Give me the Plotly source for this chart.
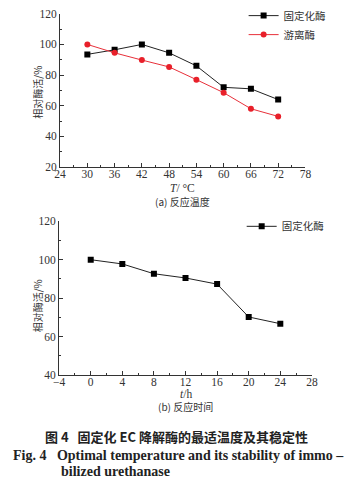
import plotly.graph_objects as go

temp = [30, 36, 42, 48, 54, 60, 66, 72]
immob_temp = [93.5, 96.5, 100, 94.5, 86, 72, 71, 64]
free_temp = [100, 94.5, 89.8, 85.3, 77, 68.5, 58, 53]

time_h = [0, 4, 8, 12, 16, 20, 24]
immob_time = [100, 97.8, 92.7, 90.5, 87.3, 70.2, 66.7]

W, H = 352, 489
SERIF = "Liberation Serif, Noto Serif CJK SC, Noto Sans CJK SC, serif"
CJK = "Noto Sans CJK SC, Liberation Serif, serif"

def py(p):
    return 1 - p / H

fig = go.Figure()
fig.add_trace(go.Scatter(x=temp, y=immob_temp, mode="lines+markers", name="固定化酶",
                         line=dict(color="#222222", width=1),
                         marker=dict(symbol="square", size=6, color="#000000"),
                         xaxis="x", yaxis="y", legend="legend"))
fig.add_trace(go.Scatter(x=temp, y=free_temp, mode="lines+markers", name="游离酶",
                         line=dict(color="#e8303a", width=1),
                         marker=dict(symbol="circle", size=6, color="#e8202a"),
                         xaxis="x", yaxis="y", legend="legend"))
fig.add_trace(go.Scatter(x=time_h, y=immob_time, mode="lines+markers", name="固定化酶",
                         line=dict(color="#222222", width=1),
                         marker=dict(symbol="square", size=6, color="#000000"),
                         xaxis="x2", yaxis="y2", legend="legend2"))

axcommon = dict(showline=True, linecolor="#333333", linewidth=1, ticks="inside",
                ticklen=4, tickcolor="#333333", showgrid=False, zeroline=False,
                tickfont=dict(family=SERIF, size=11.5, color="#333333"))
minorc = dict(ticks="inside", ticklen=2, tickcolor="#333333")

fig.update_layout(
    width=W, height=H, margin=dict(l=0, r=0, t=0, b=0),
    paper_bgcolor="white", plot_bgcolor="white",
    xaxis=dict(domain=[56 / W, 310 / W], range=[24, 78], tickmode="linear", tick0=24, dtick=6,
               minor=dict(dtick=3, tick0=24, **minorc), anchor="y", ticklabelstandoff=-4,
               **axcommon),
    yaxis=dict(domain=[py(165), py(8)], range=[20, 120], tickmode="linear", tick0=20, dtick=20,
               minor=dict(dtick=10, **minorc), anchor="x", **axcommon),
    xaxis2=dict(domain=[55 / W, 316.7 / W], range=[-4, 28], tickmode="linear", tick0=-4, dtick=4,
                minor=dict(dtick=2, **minorc), anchor="y2", ticklabelstandoff=-4, **axcommon),
    yaxis2=dict(domain=[py(378.3), py(220.7)], range=[40, 120], tickmode="linear", tick0=40, dtick=20,
                minor=dict(dtick=10, **minorc), anchor="x2", **axcommon),
    legend=dict(x=246 / W, y=py(-5), xanchor="left", yanchor="top", bgcolor="rgba(0,0,0,0)",
                font=dict(family=CJK, size=10.5, color="#333333"), tracegroupgap=0,
                itemwidth=30),
    legend2=dict(x=244 / W, y=py(211), xanchor="left", yanchor="top", bgcolor="rgba(0,0,0,0)",
                 font=dict(family=CJK, size=10.5, color="#333333"), itemwidth=30),
    showlegend=True,
)

ann = []
def text(x, y, t, size=10, fam=CJK, angle=0, bold=False, anchor="center", color="#333333"):
    if bold:
        t = "<b>" + t + "</b>"
    ann.append(dict(x=x / W, y=py(y), xref="paper", yref="paper", text=t, showarrow=False,
                    font=dict(family=fam, size=size, color=color), textangle=angle,
                    xanchor=anchor, yanchor="middle"))

text(33, 88, "相对酶活/%", size=10, angle=-90)
text(33, 307, "相对酶活/%", size=10, angle=-90)
text(183, 187, "<i>T</i>/ °C", size=11.5, fam=SERIF)
text(183, 200, "(a) 反应温度", size=10)
text(186, 398, "<i>t</i>/h", size=11.5, fam=SERIF)
text(186, 411, "(b) 反应时间", size=10)
text(176, 441, "图 4   固定化 EC 降解酶的最适温度及其稳定性", size=13, bold=True, color="#222222")
text(5, 461, "Fig. 4   Optimal temperature and its stability of immo –", size=14, fam=SERIF,
     bold=True, anchor="left", color="#222222")
text(55, 477, "bilized urethanase", size=14, fam=SERIF, bold=True, anchor="left", color="#222222")
fig.update_layout(annotations=ann)

fig.write_html("out.html")
